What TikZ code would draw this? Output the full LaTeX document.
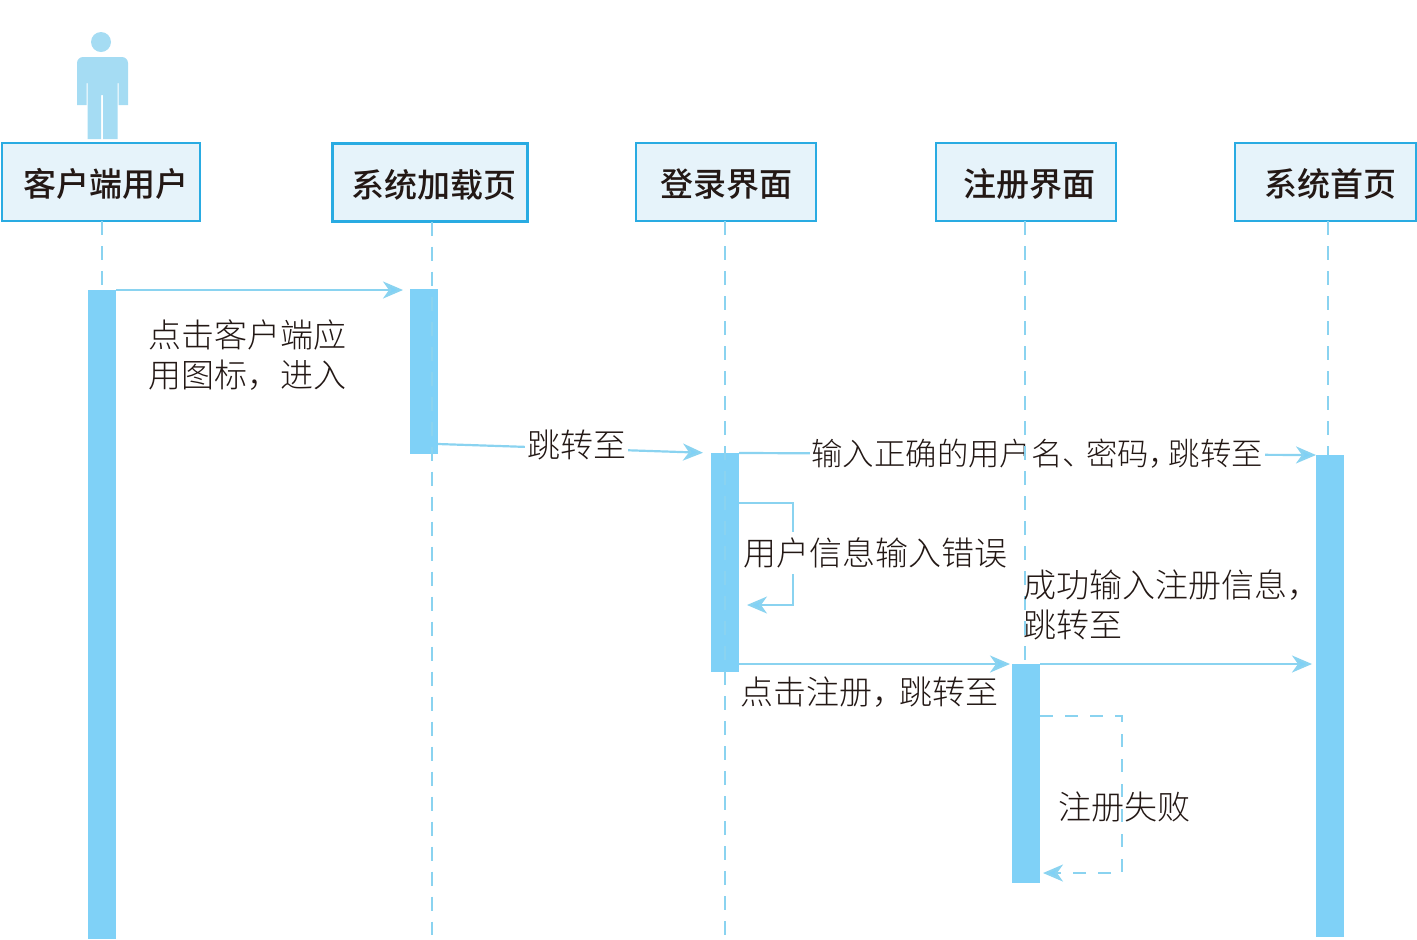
\documentclass[tikz,border=0pt]{standalone}
\usepackage{fontspec}
\usepackage{xcolor}
\usepackage{tikz}
\usetikzlibrary{positioning,arrows.meta,calc}
\setmainfont{Noto Sans CJK SC}
\newfontfamily\cjklight{Noto Sans CJK SC Light}
\newfontfamily\cjkmedium{Noto Sans CJK SC Medium}
\definecolor{seqblue}{RGB}{41,171,226}
\definecolor{seqbar}{RGB}{127,209,247}
\definecolor{seqline}{RGB}{138,211,240}
\definecolor{seqfill}{RGB}{230,243,250}
\definecolor{seqman}{RGB}{165,220,243}
\definecolor{seqtext}{RGB}{35,24,21}
\tikzset{
  actor/.style={draw=seqblue, line width=1.3pt, fill=seqfill, outer sep=0pt,
                minimum width=99pt, minimum height=39pt, text=seqtext,
                text height=18pt, text depth=3.5pt,
                font=\cjkmedium\fontsize{16.5}{20}\selectfont},
  lifebar/.style={fill=seqbar, minimum width=14pt, inner sep=0pt, outer sep=0pt},
  life/.style={seqline, line width=1pt, dash pattern=on 7pt off 5.5pt},
  msg/.style={-{Stealth[length=10pt, width=8.5pt, inset=3pt, fill=seqbar]}, seqline, line width=1.1pt},
  msgback/.style={msg, dash pattern=on 6.5pt off 6pt},
  lbl/.style={font=\cjklight\fontsize{16.5}{20}\selectfont, text=seqtext, align=left, inner sep=0pt},
  dlbl/.style={lbl, fill=white, inner xsep=1pt, inner ysep=3pt}
}
\begin{document}
\begin{tikzpicture}[x=0.5pt,y=-0.5pt]
    \useasboundingbox (0,0) rectangle (1417,939);
    % person
    \node[circle, fill=seqman, minimum size=10pt, inner sep=0pt] (head) at (101,42) {};
    \fill[seqman] (77,105) [rounded corners=3pt] -- (77,57) -- (128,57) -- (128,80) [sharp corners] -- (128,105) -- (118.5,105) -- (118.5,83)
      -- (117.5,83) -- (117.5,139) -- (103,139) -- (103,95) -- (101,95) -- (101,139) -- (87.5,139) -- (87.5,83) -- (86.5,83) -- (86.5,105) -- cycle;
    % actors
    \node[actor] (user) at (101,182) {\kern4.5pt 客户端用户};
    \node[actor, minimum width=97.5pt, line width=1.5pt] (load) at (430,182.5) {\kern4pt 系统加载页};
    \node[actor, minimum width=90pt] (login) at (726,182) {登录界面};
    \node[actor, minimum width=90pt] (reg) at (1026,182) {\kern3pt 注册界面};
    \node[actor, minimum width=90.5pt] (home) at (1325.5,182) {\kern5pt 系统首页};
    % activation bars
    \node[lifebar, minimum height=324.5pt] (bar1) at (102,614.5) {};
    \node[lifebar, minimum height=82.5pt] (bar2) at (424,371.5) {};
    \node[lifebar, minimum height=109.5pt] (bar3) at (725,562.5) {};
    \node[lifebar, minimum height=109.5pt] (bar4) at (1026,773.5) {};
    \node[lifebar, minimum height=241pt] (bar5) at (1330,696) {};
    % free ends
    \coordinate (end2) at (432,935);
    \coordinate (end3) at (725,935);
    \coordinate (end4) at (1025,664);
    \coordinate (end5) at (1328,455);
    \coordinate (from2) at (438,444);
    \coordinate (loopa) at (793,503);
    \coordinate (loopb) at (793,605);
    \coordinate (loopc) at (1122,716);
    \coordinate (loopd) at (1122,873);
    \coordinate (starta) at (739,503);
    \coordinate (startb) at (1040,716);
    \coordinate (tipa) at (747,605);
    \coordinate (tipb) at (1043,873);
    % messages
    \draw[msg, shorten >=3.5pt] (bar1.north east) -- (bar1.north east -| bar2.west);
    \draw[msg, shorten >=4pt] (from2) -- node[dlbl, xshift=1pt, yshift=2pt] (jump1) {跳转至} (bar3.north west);
    \draw[msg] (bar3.north east) -- node[dlbl, pos=.517, font=\cjklight\fontsize{15.7}{20}\selectfont] (right1) {输入正确的用户名、\kern-4pt 密码，\kern-5.7pt 跳转至} (bar5.north west);
    \draw[msg] (starta) -- (loopa) -- (loopb) -- (tipa);
    \node[dlbl] (wrong) at (875.5,553) {用户信息输入错误};
    \draw[msg, shorten >=1pt] (bar3.east |- end4) -- (end4 -| bar4.west);
    \draw[msg, shorten >=2pt] (bar4.north east) -- (bar4.north east -| bar5.west);
    \draw[msgback] (startb) -- (loopc) -- (loopd) -- (tipb);
    % lifelines
    \draw[life] (user.south -| bar1) -- (bar1.north);
    \draw[life] (load.south -| end2) -- (end2);
    \draw[life] (login.south -| end3) -- (end3);
    \draw[life] (reg.south -| end4) -- (end4);
    \draw[life] (home.south -| end5) -- (end5);
    % texts
    \node[lbl, anchor=west] (click) at (148.5,355) {点击客户端应\\用图标，进入};
    \node[lbl, anchor=west] (okreg) at (1023.5,605) {成功输入注册信息，\\跳转至};
    \node[lbl] (toreg) at (869.5,692) {点击注册，\kern-3pt 跳转至};
    \node[lbl] (fail) at (1124,807) {注册失败};
\end{tikzpicture}
\end{document}
